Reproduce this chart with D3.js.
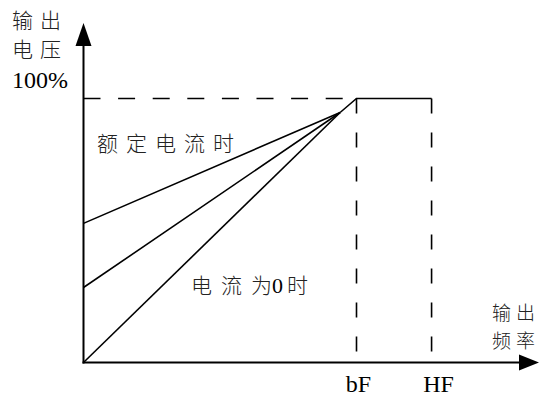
<!DOCTYPE html>
<html>
<head>
<meta charset="utf-8">
<script src="https://cdn.jsdelivr.net/npm/d3@7"></script>
<style>
  body { margin: 0; background: #fff; }
  .cjk { font-family: "Noto Sans CJK SC", sans-serif; font-weight: 300; font-size: 20px; fill: #222; }
  .latin { font-family: "Liberation Serif", serif; font-size: 24px; fill: #000; }
</style>
</head>
<body>
<svg id="chart" width="540" height="396"></svg>
<script>
// Boost levels at zero frequency (fraction of rated voltage)
var startVoltage = [0.527, 0.284, 0];
// Point where the three V/F lines meet before reaching the base frequency
var kneeFreq = 0.94;
var kneeVolt = 0.947;
// Frequency ticks (fraction of base frequency)
var tickLabels = ["bF", "HF"];
var tickFreqs = [1.0, 1.275];

var svg = d3.select("#chart");

// Scales: origin at (83, 362)
var x = d3.scaleLinear().domain([0, 1]).range([83.5, 356.5]);
var y = d3.scaleLinear().domain([0, 1]).range([362.5, 98.5]);

// 100% reference dashed line
svg.append("line")
    .attr("x1", x(0)).attr("x2", x(1))
    .attr("y1", y(1)).attr("y2", y(1))
    .attr("stroke", "#000").attr("stroke-width", 1.6)
    .attr("stroke-dasharray", "17,17.6");

// Vertical dashed lines at bF and HF
svg.selectAll(".vdash")
  .data(tickFreqs)
  .enter().append("line")
    .attr("class", "vdash")
    .attr("x1", d => x(d)).attr("x2", d => x(d))
    .attr("y1", y(1)).attr("y2", y(0))
    .attr("stroke", "#000").attr("stroke-width", 1.6)
    .attr("stroke-dasharray", "15,19");

// V/F lines
var line = d3.line().x(d => x(d[0])).y(d => y(d[1]));
svg.selectAll(".vf")
  .data(startVoltage)
  .enter().append("path")
    .attr("class", "vf")
    .attr("d", d => line([[0, d], [kneeFreq, kneeVolt]]))
    .attr("fill", "none").attr("stroke", "#000").attr("stroke-width", 1.6);

// Common segment to base frequency, then constant up to HF
svg.append("path")
    .attr("d", line([[kneeFreq, kneeVolt], [tickFreqs[0], 1], [tickFreqs[1], 1]]))
    .attr("fill", "none").attr("stroke", "#000").attr("stroke-width", 1.6);

// Axes with arrows
svg.append("line")
    .attr("x1", x(0)).attr("x2", x(0))
    .attr("y1", y(0) + 1).attr("y2", 40)
    .attr("stroke", "#000").attr("stroke-width", 2);
svg.append("path")
    .attr("d", "M" + x(0) + ",23 L" + (x(0) - 8) + ",46 L" + (x(0) + 8) + ",46 Z")
    .attr("fill", "#000");
svg.append("line")
    .attr("x1", x(0) - 1).attr("x2", 525)
    .attr("y1", y(0)).attr("y2", y(0))
    .attr("stroke", "#000").attr("stroke-width", 2);
svg.append("path")
    .attr("d", "M539," + y(0) + " L519," + (y(0) - 8) + " L519," + (y(0) + 8) + " Z")
    .attr("fill", "#000");

// Tick labels
var tickOffsets = [2, 7];
svg.selectAll(".tick-label")
  .data(tickLabels)
  .enter().append("text")
    .attr("class", "latin tick-label")
    .attr("x", (d, i) => x(tickFreqs[i]) + tickOffsets[i])
    .attr("y", 392)
    .attr("text-anchor", "middle")
    .text(d => d);

// Spaced CJK label: one x per character
function label(txt, xs, yy, size) {
  return svg.append("text").attr("class", "cjk")
      .attr("x", xs.join(" ")).attr("y", yy)
      .style("font-size", (size || 21) + "px")
      .text(txt);
}

// Axis titles
label("输出", [12, 40], 28);
label("电压", [12, 40], 57);
svg.append("text").attr("class", "latin").attr("x", 12).attr("y", 88).text("100%");

label("输出", [492, 516], 320, 19);
label("频率", [492, 516], 348, 19);

// Line annotations
label("额定电流时", [97, 126, 155, 184, 213], 151);

label("电流为", [191, 221, 251], 293);
svg.append("text").attr("class", "latin").attr("x", 272).attr("y", 293)
    .style("font-size", "22px").text("0");
label("时", [287], 293);
</script>
</body>
</html>
